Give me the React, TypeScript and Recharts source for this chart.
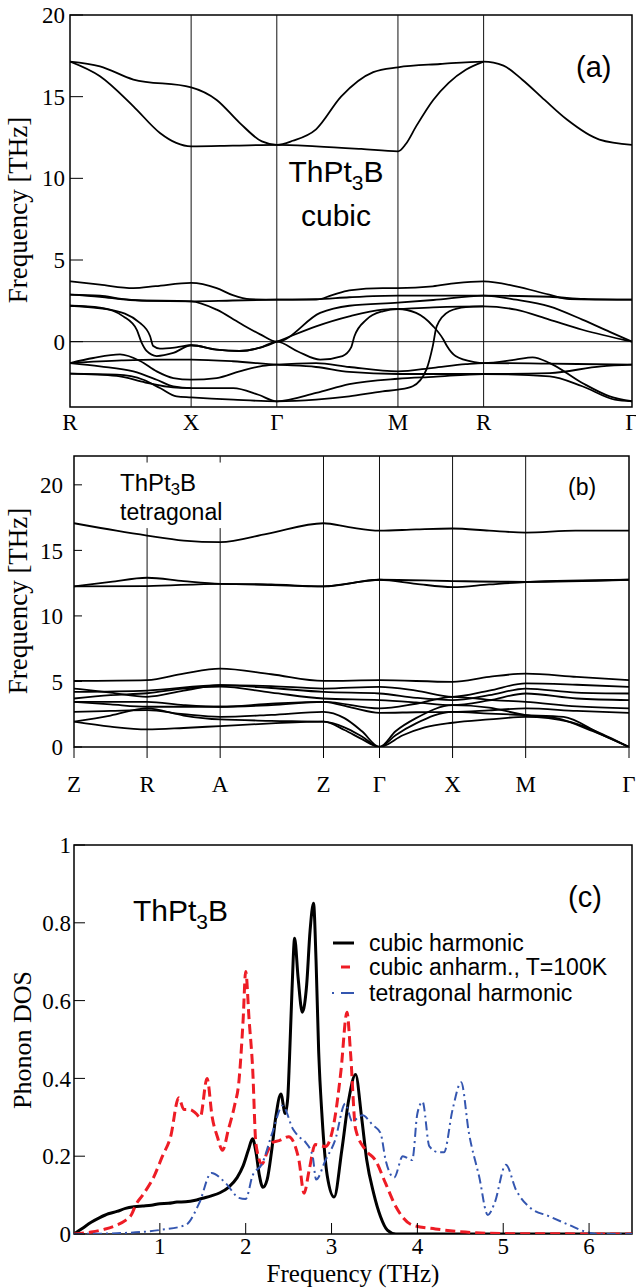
import React from 'react';
import { LineChart, Line, XAxis, YAxis, ReferenceLine, ReferenceArea, Customized } from 'recharts';

type Pt = [number, number];

const SERIF = '"Liberation Serif", "Times New Roman", Times, serif';
const SANS = '"Liberation Sans", Arial, Helvetica, sans-serif';

// ---------- Panel (a): cubic phonon bands ----------
const cubicPathLabels = ['R', 'X', 'Γ', 'M', 'R', 'Γ'];
const cubicPathK = [0, 0.707, 1.207, 1.914, 2.414, 3.28];
const cubicYTicks = [0, 5, 10, 15, 20];

const cubicBand1: Pt[] = [[0,17.15],[0.175,16.86],[0.37,16.05],[0.707,15.57],[0.856,14.8],[0.99,13.4],[1.12,12.26],[1.207,12.05],[1.3,12.3],[1.436,13.0],[1.582,15.0],[1.77,16.5],[1.914,16.8],[2.16,17.0],[2.414,17.15],[2.53,16.9],[2.64,16.04],[2.77,14.8],[2.9,13.6],[3.09,12.37],[3.28,12.05]];
const cubicBand2: Pt[] = [[0,17.15],[0.175,16.25],[0.37,14.41],[0.525,12.78],[0.62,12.17],[0.707,11.96],[0.95,12.0],[1.207,12.05],[1.436,11.96],[1.7,11.8],[1.914,11.65],[1.96,12.1],[2.02,13.18],[2.12,14.8],[2.21,15.85],[2.31,16.65],[2.414,17.15]];
const cubicBand3: Pt[] = [[0,3.69],[0.175,3.49],[0.37,3.28],[0.5,3.4],[0.707,3.6],[0.856,3.28],[0.95,2.85],[1.05,2.6],[1.207,2.57],[1.436,2.57],[1.53,2.85],[1.63,3.14],[1.825,3.28],[1.914,3.28],[2.117,3.39],[2.253,3.59],[2.414,3.69],[2.603,3.39],[2.797,2.88],[2.914,2.61],[3.28,2.57]];
const cubicBand4: Pt[] = [[0,2.88],[0.175,2.82],[0.3,2.62],[0.45,2.5],[0.707,2.47],[0.95,2.52],[1.207,2.57],[1.436,2.6],[1.63,2.72],[1.914,2.82],[2.414,2.82],[2.8,2.75],[3.0,2.62],[3.28,2.57]];
const cubicBand5: Pt[] = [[0,2.88],[0.175,2.75],[0.35,2.55],[0.707,2.47],[0.856,1.96],[0.99,1.14],[1.11,0.45],[1.207,0],[1.46,1.76],[1.63,2.2],[1.914,2.39],[2.12,2.55],[2.414,2.82],[2.603,2.57],[2.797,2.16],[2.99,1.35],[3.15,0.6],[3.28,0]];
const cubicBand6: Pt[] = [[0,2.2],[0.175,2.08],[0.311,1.55],[0.389,0.74],[0.418,-0.06],[0.447,-0.57],[0.506,-0.88],[0.603,-0.69],[0.707,-0.22],[0.856,-0.49],[0.99,-0.57],[1.11,-0.37],[1.207,0],[1.436,0.94],[1.63,1.55],[1.825,1.96],[1.914,2.0],[2.12,2.1],[2.414,2.16],[2.603,1.96],[2.797,1.35],[2.99,0.73],[3.28,0]];
const cubicBand7: Pt[] = [[0,2.2],[0.233,1.96],[0.408,1.15],[0.467,0.35],[0.486,-0.27],[0.525,-0.43],[0.62,-0.35],[0.707,-0.22],[0.856,-0.49],[0.99,-0.57],[1.11,-0.37],[1.207,0],[1.33,-0.6],[1.46,-1.1],[1.59,-0.88],[1.64,-0.37],[1.66,0.33],[1.73,1.35],[1.825,1.86],[1.914,2.0],[2.02,1.76],[2.12,0.94],[2.18,0.12],[2.2,-0.27],[2.25,-0.88],[2.36,-1.25],[2.414,-1.31],[2.6,-1.1],[2.7,-0.96],[2.8,-1.31],[2.99,-2.53],[3.15,-3.35],[3.28,-3.65]];
const cubicBand8: Pt[] = [[0,-1.96],[0.272,-2.02],[0.428,-2.33],[0.525,-2.84],[0.622,-3.35],[0.707,-3.41],[0.953,-3.55],[1.207,-3.65],[1.436,-3.55],[1.63,-3.35],[1.825,-3.04],[1.914,-2.94],[2.0,-2.73],[2.08,-1.71],[2.117,-0.29],[2.14,0.94],[2.214,1.86],[2.31,2.12],[2.414,2.16]];
const cubicBand9: Pt[] = [[0,-1.31],[0.136,-1.0],[0.292,-0.78],[0.409,-1.18],[0.506,-1.82],[0.603,-2.23],[0.707,-2.33],[0.856,-2.23],[0.99,-1.82],[1.11,-1.51],[1.207,-1.41],[1.436,-1.31],[1.63,-1.55],[1.914,-1.82],[2.12,-1.6],[2.31,-1.38],[2.414,-1.31],[2.8,-1.35],[3.28,-1.41]];
const cubicBand10: Pt[] = [[0,-1.31],[0.3,-1.15],[0.5,-1.1],[0.707,-1.1],[0.95,-1.2],[1.207,-1.41],[1.436,-1.55],[1.63,-1.85],[1.914,-1.98],[2.414,-1.98],[2.8,-1.92],[3.1,-1.51],[3.28,-1.41]];
const cubicBand11: Pt[] = [[0,-1.31],[0.175,-1.51],[0.37,-1.82],[0.506,-2.33],[0.603,-2.74],[0.707,-2.84],[0.953,-2.84],[1.1,-3.25],[1.207,-3.65],[1.436,-3.14],[1.63,-2.6],[1.914,-2.27],[2.12,-2.15],[2.414,-1.98],[2.8,-2.12],[2.99,-2.73],[3.18,-3.55],[3.28,-3.65]];
const cubicBand12: Pt[] = [[0,-1.96],[0.272,-2.1],[0.44,-2.5],[0.6,-2.8],[0.707,-2.84]];

const cubicBands = [cubicBand1, cubicBand2, cubicBand3, cubicBand4, cubicBand5, cubicBand6, cubicBand7, cubicBand8, cubicBand9, cubicBand10, cubicBand11, cubicBand12];

// ---------- Panel (b): tetragonal phonon bands ----------
const tetPathLabels = ['Z', 'R', 'A', 'Z', 'Γ', 'X', 'M', 'Γ'];
const tetPathK = [0, 0.5, 1.0, 1.707, 2.09, 2.59, 3.09, 3.797];
const tetYTicks = [0, 5, 10, 15, 20];

const tetBand1: Pt[] = [[0,17.07],[0.29,16.5],[0.5,16.13],[0.75,15.75],[1.0,15.63],[1.32,16.26],[1.707,17.07],[1.88,16.77],[2.09,16.5],[2.34,16.6],[2.59,16.67],[2.84,16.5],[3.09,16.36],[3.43,16.5],[3.797,16.5]];
const tetBand2: Pt[] = [[0,12.25],[0.25,12.6],[0.5,12.91],[0.75,12.65],[1.0,12.45],[1.35,12.4],[1.707,12.25],[1.9,12.5],[2.09,12.76],[2.34,12.45],[2.59,12.2],[2.84,12.4],[3.09,12.58],[3.797,12.76]];
const tetBand3: Pt[] = [[0,12.25],[0.5,12.28],[1.0,12.45],[1.707,12.25],[2.09,12.76],[2.59,12.66],[3.09,12.6],[3.797,12.76]];
const tetBand4: Pt[] = [[0,5.04],[0.5,5.1],[0.75,5.6],[1.0,5.98],[1.35,5.55],[1.707,5.04],[2.09,5.1],[2.59,4.97],[2.84,5.35],[3.09,5.6],[3.44,5.35],[3.797,5.1]];
const tetBand5: Pt[] = [[0,4.46],[0.25,4.15],[0.5,3.83],[0.75,4.3],[1.0,4.72],[1.35,4.65],[1.707,4.46],[2.09,4.59],[2.34,4.3],[2.59,3.83],[2.84,4.3],[3.09,4.85],[3.44,4.75],[3.797,4.59]];
const tetBand6: Pt[] = [[0,4.2],[0.5,4.3],[1.0,4.72],[1.35,4.5],[1.707,4.2],[2.09,4.08],[2.34,3.75],[2.59,3.58],[2.84,3.95],[3.09,4.46],[3.44,4.15],[3.797,4.08]];
const tetBand7: Pt[] = [[0,3.7],[0.25,3.95],[0.5,4.1],[0.75,4.45],[1.0,4.6],[1.35,4.15],[1.707,3.7],[2.09,3.58],[2.34,3.4],[2.59,3.19],[2.84,3.55],[3.09,4.08],[3.44,3.7],[3.797,3.58]];
const tetBand8: Pt[] = [[0,3.45],[0.5,3.45],[0.75,3.2],[1.0,3.07],[1.35,3.2],[1.707,3.45],[2.09,2.94],[2.34,3.3],[2.59,3.83],[2.84,3.6],[3.09,3.45],[3.44,3.1],[3.797,2.94]];
const tetBand9: Pt[] = [[0,3.45],[0.25,3.25],[0.5,3.07],[1.0,3.07],[1.35,3.3],[1.707,3.45],[1.9,3.0],[2.09,2.61],[2.34,2.65],[2.59,2.68],[2.84,2.8],[3.09,2.94],[3.44,2.75],[3.797,2.61]];
const tetBand10: Pt[] = [[0,2.68],[0.25,2.75],[0.5,2.81],[0.75,2.5],[1.0,2.3],[1.35,2.45],[1.707,2.68],[1.85,2.2],[1.97,1.2],[2.09,0],[2.2,1.2],[2.34,2.2],[2.59,3.19],[2.84,3.0],[3.09,2.43],[3.3,2.2],[3.55,1.2],[3.797,0]];
const tetBand11: Pt[] = [[0,1.93],[0.25,2.4],[0.5,2.95],[0.75,2.4],[1.0,2.1],[1.35,2.0],[1.707,1.93],[1.85,1.5],[1.97,0.8],[2.09,0],[2.2,0.9],[2.34,1.8],[2.59,2.68],[2.84,2.55],[3.09,2.43],[3.35,2.3],[3.6,1.0],[3.797,0]];
const tetBand12: Pt[] = [[0,1.93],[0.25,1.55],[0.5,1.34],[0.75,1.45],[1.0,1.6],[1.35,1.8],[1.707,1.93],[1.85,1.3],[1.97,0.6],[2.09,0],[2.25,0.9],[2.4,1.5],[2.59,1.85],[2.84,2.1],[3.09,2.3],[3.4,1.9],[3.65,0.8],[3.797,0]];

const tetBands = [tetBand1, tetBand2, tetBand3, tetBand4, tetBand5, tetBand6, tetBand7, tetBand8, tetBand9, tetBand10, tetBand11, tetBand12];

// ---------- Panel (c): phonon DOS ----------
const dosXTicks = [1, 2, 3, 4, 5, 6];
const dosYTicks = [0, 0.2, 0.4, 0.6, 0.8, 1];

const cubicHarmonic: Pt[] = [[0,0],[0.1,0.015],[0.2,0.03],[0.3,0.042],[0.4,0.052],[0.5,0.058],[0.6,0.066],[0.7,0.07],[0.8,0.072],[0.9,0.074],[1.0,0.078],[1.1,0.079],[1.2,0.082],[1.3,0.083],[1.4,0.086],[1.5,0.092],[1.6,0.098],[1.7,0.106],[1.8,0.12],[1.9,0.145],[1.97,0.175],[2.03,0.215],[2.08,0.245],[2.12,0.21],[2.16,0.15],[2.2,0.12],[2.25,0.14],[2.3,0.21],[2.35,0.3],[2.41,0.36],[2.46,0.31],[2.49,0.35],[2.51,0.45],[2.54,0.63],[2.57,0.76],[2.61,0.66],[2.66,0.57],[2.71,0.64],[2.75,0.78],[2.79,0.85],[2.82,0.7],[2.85,0.47],[2.89,0.3],[2.95,0.15],[3.03,0.095],[3.12,0.216],[3.2,0.345],[3.28,0.41],[3.35,0.3],[3.41,0.19],[3.49,0.105],[3.57,0.045],[3.65,0.01],[3.75,0],[6.5,0]];
const cubicAnharm: Pt[] = [[0,0],[0.2,0.005],[0.35,0.012],[0.5,0.023],[0.6,0.035],[0.67,0.05],[0.72,0.075],[0.8,0.1],[0.93,0.147],[1.03,0.2],[1.125,0.25],[1.22,0.35],[1.28,0.32],[1.35,0.32],[1.42,0.31],[1.47,0.3],[1.55,0.4],[1.61,0.3],[1.67,0.25],[1.73,0.215],[1.8,0.27],[1.87,0.33],[1.92,0.39],[1.97,0.55],[2.0,0.675],[2.04,0.55],[2.08,0.43],[2.12,0.23],[2.19,0.18],[2.25,0.21],[2.31,0.235],[2.39,0.24],[2.5,0.25],[2.57,0.23],[2.62,0.19],[2.68,0.105],[2.74,0.165],[2.81,0.23],[2.93,0.225],[3.04,0.3],[3.11,0.42],[3.18,0.57],[3.22,0.47],[3.28,0.27],[3.4,0.215],[3.51,0.19],[3.63,0.13],[3.75,0.07],[3.94,0.023],[4.21,0.013],[4.56,0.005],[5.0,0.001],[6.5,0]];
const tetragonalHarmonic: Pt[] = [[0,0],[0.5,0.002],[0.99,0.01],[1.3,0.023],[1.46,0.08],[1.6,0.157],[1.77,0.13],[1.92,0.093],[2.0,0.09],[2.08,0.15],[2.19,0.18],[2.31,0.26],[2.43,0.33],[2.55,0.27],[2.62,0.25],[2.7,0.235],[2.78,0.2],[2.82,0.14],[2.93,0.19],[3.04,0.24],[3.16,0.335],[3.24,0.29],[3.36,0.305],[3.48,0.28],[3.57,0.26],[3.63,0.19],[3.73,0.145],[3.83,0.2],[3.94,0.19],[4.0,0.31],[4.06,0.34],[4.14,0.225],[4.25,0.21],[4.31,0.21],[4.41,0.32],[4.51,0.39],[4.6,0.26],[4.72,0.147],[4.82,0.049],[4.9,0.08],[5.03,0.178],[5.15,0.113],[5.3,0.07],[5.54,0.045],[5.77,0.023],[5.97,0.005],[6.1,0],[6.5,0]];

const dosNames = ['cubic harmonic', 'cubic anharm., T=100K', 'tetragonal harmonic'];
const dosColors = ['#000000', '#ee1c25', '#3456b0'];

const pts = (a: Pt[]) => a.map(([k, v]) => ({ k, v }));

const tickStyle = { fontSize: 23, fontFamily: SERIF, fill: '#000' };

function Formula({ x, y, size, anchor, sub = 0.25 }: { x: number; y: number; size: number; anchor?: string; sub?: number }) {
  return (
    <text x={x} y={y} fontFamily={SANS} fontSize={size} textAnchor={anchor || 'start'} fill="#000">
      ThPt
      <tspan dy={size * sub} fontSize={size * 0.7}>3</tspan>
      <tspan dy={-size * sub} fontSize={size}>B</tspan>
    </text>
  );
}

function PanelA() {
  return (
    <LineChart width={636} height={440} margin={{ top: 15, right: 3, bottom: 3, left: 0 }}>
      <XAxis dataKey="k" type="number" domain={[0, 3.28]} ticks={cubicPathK} interval={0}
        tickFormatter={(_v: number, i: number) => cubicPathLabels[i]}
        tickLine={false} axisLine={false} tickSize={0} tickMargin={7} height={30} tick={tickStyle} allowDataOverflow />
      <YAxis type="number" domain={[-4, 20]} ticks={cubicYTicks} interval={0} width={70}
        tickSize={-13} tickMargin={18} axisLine={false} tickLine={{ stroke: '#000' }} tick={tickStyle} allowDataOverflow />
      <YAxis yAxisId="r" orientation="right" type="number" domain={[-4, 20]} ticks={cubicYTicks} width={1}
        tickSize={-13} tick={false} axisLine={false} tickLine={{ stroke: '#000' }} allowDataOverflow />
      <ReferenceArea x1={0} x2={3.28} y1={-4} y2={20} fill="none" stroke="#000" strokeWidth={1.5} ifOverflow="visible" />
      {cubicPathK.slice(1, 5).map((k) => (
        <ReferenceLine key={'v' + k} x={k} stroke="#111" strokeWidth={1} />
      ))}
      <ReferenceLine y={0} stroke="#111" strokeWidth={1} />
      {cubicBands.map((b, i) => (
        <Line key={'cb' + i} data={pts(b)} dataKey="v" type="monotone" stroke="#000" strokeWidth={1.8}
          dot={false} isAnimationActive={false} />
      ))}
      <Customized component={() => (
        <g>
          <text x={21} y={210} transform="rotate(-90 21 210)" textAnchor="middle" dominantBaseline="middle"
            fontFamily={SERIF} fontSize={27} fill="#000">Frequency [THz]</text>
          <text x={576} y={77} fontFamily={SANS} fontSize={29} fill="#000">(a)</text>
          <Formula x={336} y={182} size={30} anchor="middle" />
          <text x={336} y={226} fontFamily={SANS} fontSize={30} textAnchor="middle" fill="#000">cubic</text>
        </g>
      )} />
    </LineChart>
  );
}

function PanelB() {
  return (
    <LineChart width={636} height={360} margin={{ top: 16, right: 6, bottom: 13, left: 0 }}>
      <XAxis dataKey="k" type="number" domain={[0, 3.797]} ticks={tetPathK} interval={0}
        tickFormatter={(_v: number, i: number) => tetPathLabels[i]}
        tickLine={{ stroke: '#000' }} axisLine={false} tickSize={11} tickMargin={18} height={40} tick={tickStyle} allowDataOverflow />
      <YAxis type="number" domain={[0, 22.2]} ticks={tetYTicks} interval={0} width={74}
        tickSize={-8} tickMargin={19} axisLine={false} tickLine={{ stroke: '#000' }} tick={tickStyle} allowDataOverflow />
      <YAxis yAxisId="r" orientation="right" type="number" domain={[0, 22.2]} ticks={tetYTicks} width={1}
        tickSize={-8} tick={false} axisLine={false} tickLine={{ stroke: '#000' }} allowDataOverflow />
      <ReferenceArea x1={0} x2={3.797} y1={0} y2={22.2} fill="none" stroke="#000" strokeWidth={1.5} ifOverflow="visible" />
      {tetPathK.slice(3, 7).map((k) => (
        <ReferenceLine key={'tv' + k} x={k} stroke="#111" strokeWidth={1} />
      ))}
      {tetPathK.slice(1, 3).map((k) => (
        <ReferenceLine key={'tl' + k} segment={[{ x: k, y: 0 }, { x: k, y: 16.7 }]} stroke="#111" strokeWidth={1} />
      ))}
      {tetPathK.slice(1, 3).map((k) => (
        <ReferenceLine key={'tu' + k} segment={[{ x: k, y: 21.7 }, { x: k, y: 22.2 }]} stroke="#111" strokeWidth={1} />
      ))}
      {tetBands.map((b, i) => (
        <Line key={'tb' + i} data={pts(b)} dataKey="v" type="monotone" stroke="#000" strokeWidth={1.8}
          dot={false} isAnimationActive={false} />
      ))}
      <Customized component={() => (
        <g>
          <text x={21} y={161} transform="rotate(-90 21 161)" textAnchor="middle" dominantBaseline="middle"
            fontFamily={SERIF} fontSize={27} fill="#000">Frequency [THz]</text>
          <text x={568} y={55} fontFamily={SANS} fontSize={23} fill="#000">(b)</text>
          <Formula x={120} y={51} size={24} sub={0.18} />
          <text x={120} y={80} fontFamily={SANS} fontSize={23} fill="#000">tetragonal</text>
        </g>
      )} />
    </LineChart>
  );
}

function PanelC() {
  const series = [cubicHarmonic, cubicAnharm, tetragonalHarmonic];
  const widths = [3, 3, 2];
  const dashes = [undefined, '10 5', '9 4 2 4'];
  return (
    <LineChart width={636} height={488} margin={{ top: 44, right: 3, bottom: 0, left: 0 }}>
      <XAxis dataKey="k" type="number" domain={[0, 6.5]} ticks={dosXTicks} interval={0}
        tickLine={{ stroke: '#000' }} axisLine={false} tickSize={-11} tickMargin={15} height={54} tick={tickStyle} allowDataOverflow />
      <XAxis xAxisId="top" orientation="top" dataKey="k" type="number" domain={[0, 6.5]} ticks={dosXTicks} height={1}
        tickLine={{ stroke: '#000' }} axisLine={false} tickSize={-11} tick={false} allowDataOverflow />
      <YAxis type="number" domain={[0, 1]} ticks={dosYTicks} interval={0} width={74}
        tickSize={-11} tickMargin={14} axisLine={false} tickLine={{ stroke: '#000' }} tick={tickStyle} allowDataOverflow />
      <YAxis yAxisId="r" orientation="right" type="number" domain={[0, 1]} ticks={dosYTicks} width={1}
        tickSize={-11} tick={false} axisLine={false} tickLine={{ stroke: '#000' }} allowDataOverflow />
      <ReferenceArea x1={0} x2={6.5} y1={0} y2={1} fill="none" stroke="#000" strokeWidth={1.5} ifOverflow="visible" />
      {series.map((s, i) => (
        <Line key={'dos' + i} name={dosNames[i]} data={pts(s)} dataKey="v" type="monotone" stroke={dosColors[i]}
          strokeWidth={widths[i]} strokeDasharray={dashes[i]} dot={false} isAnimationActive={false} />
      ))}
      <Customized component={() => (
        <g>
          <text x={25} y={240} transform="rotate(-90 25 240)" textAnchor="middle" dominantBaseline="middle"
            fontFamily={SERIF} fontSize={26} fill="#000">Phonon DOS</text>
          <text x={353} y={482} textAnchor="middle" fontFamily={SERIF} fontSize={25} fill="#000">Frequency (THz)</text>
          <text x={568} y={107} fontFamily={SANS} fontSize={29} fill="#000">(c)</text>
          <Formula x={133} y={121} size={30} />
          <line x1={333} x2={354} y1={143} y2={143} stroke={dosColors[0]} strokeWidth={3} />
          <line x1={341} x2={350} y1={167} y2={167} stroke={dosColors[1]} strokeWidth={3} />
          <line x1={332} x2={354} y1={193} y2={193} stroke={dosColors[2]} strokeWidth={2} strokeDasharray="2 7 13 0" />
          {dosNames.map((n, i) => (
            <text key={n} x={369} y={151 + [0, 24, 50][i]} fontFamily={SANS} fontSize={23} fill="#000">{n}</text>
          ))}
        </g>
      )} />
    </LineChart>
  );
}

export default function App() {
  return (
    <div style={{ position: 'absolute', left: 0, top: 0, width: 636, height: 1288, background: '#fff' }}>
      <div style={{ position: 'absolute', left: 0, top: 0 }}><PanelA /></div>
      <div style={{ position: 'absolute', left: 0, top: 440 }}><PanelB /></div>
      <div style={{ position: 'absolute', left: 0, top: 800 }}><PanelC /></div>
    </div>
  );
}
